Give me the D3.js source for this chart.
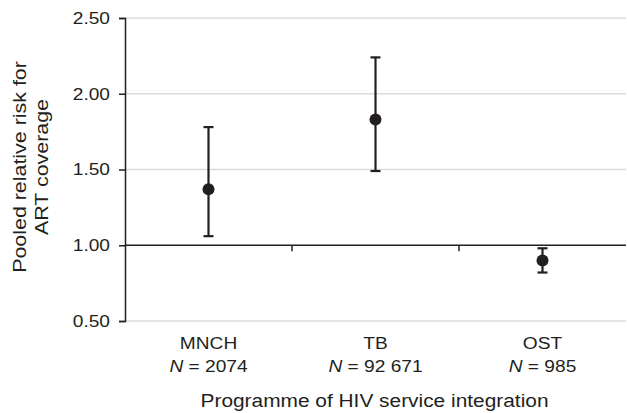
<!DOCTYPE html>
<html>
<head>
<meta charset="utf-8">
<script src="https://cdn.jsdelivr.net/npm/d3@7"></script>
<style>
  html, body { margin: 0; padding: 0; background: #fff; }
  svg { display: block; font-family: "Liberation Sans", Arial, Helvetica, sans-serif; }
</style>
</head>
<body>
<svg id="chart" width="627" height="413"></svg>
<script>
// Programmes and their pooled relative risk with 95% CI
const programmes = ["MNCH", "TB", "OST"];
const sampleSizes = ["2074", "92 671", "985"];
const pointEstimates = [1.37, 1.83, 0.90];
const lowerCI = [1.06, 1.49, 0.82];
const upperCI = [1.78, 2.24, 0.98];
const yTicks = [0.5, 1.0, 1.5, 2.0, 2.5];

const ink = "#231f20";
const wide = 1.16; // horizontal set width of the lettering
const svg = d3.select("#chart");
const margin = { left: 125, right: 1, top: 18, bottom: 92 };
const W = 627, H = 413;

const x = d3.scaleBand().domain(programmes).range([margin.left, W - margin.right]);
const y = d3.scaleLinear().domain([0.5, 2.5]).range([H - margin.bottom, margin.top]);

// horizontal gridlines
svg.append("g")
  .selectAll("line")
  .data(yTicks.filter(t => t !== 1.0))
  .join("line")
  .attr("x1", margin.left).attr("x2", W - margin.right)
  .attr("y1", d => y(d)).attr("y2", d => y(d))
  .attr("stroke", "#dcdcdc").attr("stroke-width", 1.5);

// y axis
const yAxis = svg.append("g")
  .attr("transform", `translate(${margin.left},0)`)
  .call(d3.axisLeft(y).tickValues(yTicks).tickFormat(d3.format(".2f")).tickSize(6).tickPadding(9));
yAxis.select(".domain").attr("stroke", ink).attr("stroke-width", 1.5);
yAxis.selectAll(".tick line").attr("stroke", ink).attr("stroke-width", 1.5);
yAxis.selectAll(".tick text")
  .attr("fill", ink).attr("font-size", 16.5)
  .attr("font-family", "'Liberation Sans', Arial, sans-serif")
  .attr("x", -15 / wide)
  .attr("transform", `scale(${wide},1)`);

// reference axis at RR = 1.00 with category separators
const xAxis = svg.append("g")
  .attr("transform", `translate(0,${y(1.0)})`);
xAxis.append("line")
  .attr("x1", margin.left).attr("x2", W - margin.right)
  .attr("stroke", ink).attr("stroke-width", 1.5);
xAxis.selectAll("line.sep")
  .data(programmes.slice(1))
  .join("line")
  .attr("class", "sep")
  .attr("x1", d => x(d)).attr("x2", d => x(d))
  .attr("y1", 0).attr("y2", 6)
  .attr("stroke", ink).attr("stroke-width", 1.5);

// error bars
const cap = 5;
const bars = svg.append("g").selectAll("g")
  .data(programmes.map((p, i) => ({ p, est: pointEstimates[i], lo: lowerCI[i], hi: upperCI[i] })))
  .join("g")
  .attr("transform", d => `translate(${x(d.p) + x.bandwidth() / 2},0)`);
bars.append("line")
  .attr("y1", d => y(d.lo)).attr("y2", d => y(d.hi))
  .attr("stroke", ink).attr("stroke-width", 2.2);
bars.append("line")
  .attr("x1", -cap).attr("x2", cap)
  .attr("y1", d => y(d.hi)).attr("y2", d => y(d.hi))
  .attr("stroke", ink).attr("stroke-width", 2.2);
bars.append("line")
  .attr("x1", -cap).attr("x2", cap)
  .attr("y1", d => y(d.lo)).attr("y2", d => y(d.lo))
  .attr("stroke", ink).attr("stroke-width", 2.2);
bars.append("circle")
  .attr("cy", d => y(d.est)).attr("r", 6)
  .attr("fill", ink);

// category labels
const cats = svg.append("g").selectAll("g")
  .data(programmes.map((p, i) => ({ p, n: sampleSizes[i] })))
  .join("g")
  .attr("transform", d => `translate(${x(d.p) + x.bandwidth() / 2},0) scale(${wide},1)`);
cats.append("text")
  .attr("y", 349).attr("text-anchor", "middle")
  .attr("font-size", 16.5).attr("fill", ink)
  .text(d => d.p);
const nText = cats.append("text")
  .attr("y", 372).attr("text-anchor", "middle")
  .attr("font-size", 16.5).attr("fill", ink);
nText.append("tspan").attr("font-style", "italic").text("N");
nText.append("tspan").text(d => " = " + d.n);

// axis titles
svg.append("text")
  .attr("transform", `translate(${(margin.left + W - margin.right) / 2 - 1},407) scale(${wide},1)`)
  .attr("text-anchor", "middle").attr("font-size", 18).attr("fill", ink)
  .text("Programme of HIV service integration");

const yTitle = svg.append("text")
  .attr("transform", `translate(0,167) rotate(-90) scale(${wide + 0.03},1)`)
  .attr("text-anchor", "middle").attr("font-size", 18).attr("fill", ink);
yTitle.append("tspan").attr("x", 0).attr("y", 26).text("Pooled relative risk for");
yTitle.append("tspan").attr("x", 0).attr("y", 48).text("ART coverage");
</script>
</body>
</html>
